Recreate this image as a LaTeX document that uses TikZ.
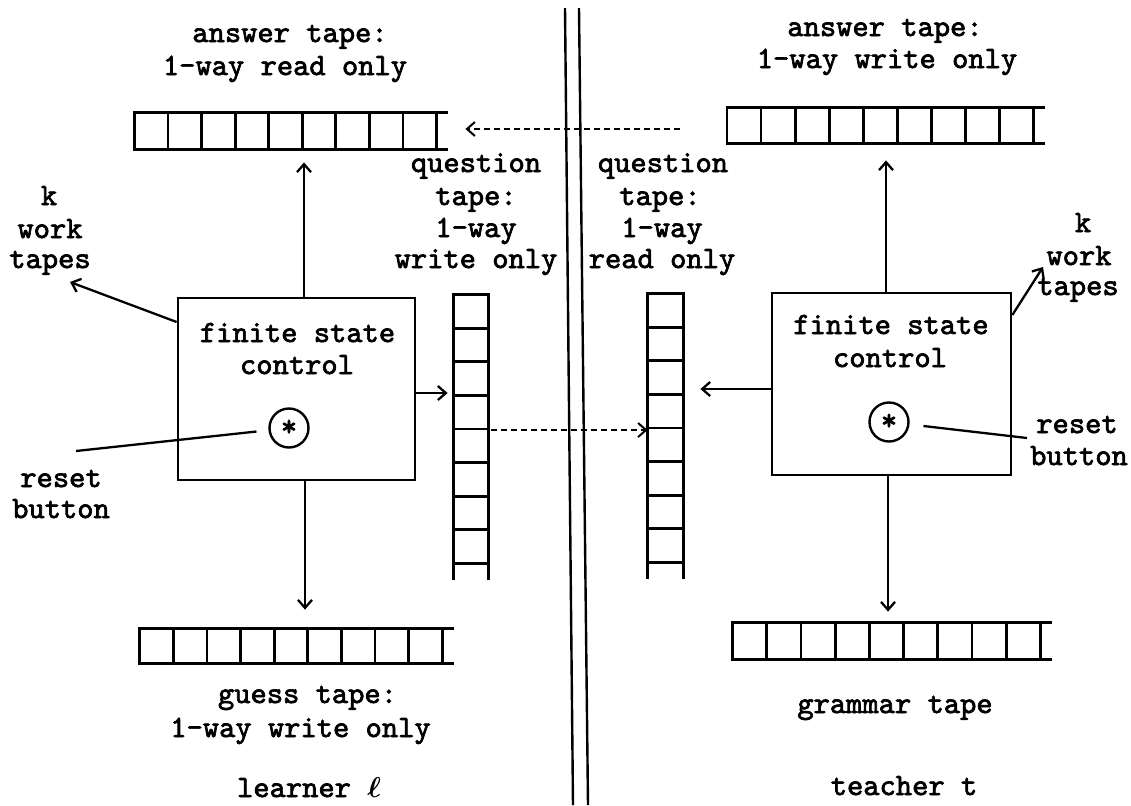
\documentclass[tikz,border=0pt]{standalone}
\usepackage{amsmath}
\usepackage{fontspec}
\setmonofont{lmmono10-regular.otf}[AutoFakeBold=2.2]
\usetikzlibrary{arrows.meta,calc}
\begin{document}
\begin{tikzpicture}[x=0.5pt,y=-0.5pt,
  lw/.style={line width=1.35pt, line cap=rect},
  arr/.style={line width=1.15pt, -{Straight Barb[length=4pt,width=7pt,line width=1.15pt]}},
  darr/.style={line width=1pt, dash pattern=on 3pt off 2pt, -{Straight Barb[length=4pt,width=7pt,line width=1pt]}},
  lbl/.style={font=\ttfamily\bfseries\fontsize{15.5pt}{18pt}\selectfont, inner sep=0pt, anchor=base},
  tapebox/.style={draw=none, inner sep=0pt},
  fsc/.style={draw, line width=1.35pt, inner sep=0pt, minimum height=91pt},
  btn/.style={draw, circle, line width=1.2pt, minimum size=19.5pt, inner sep=0pt, font=\ttfamily\bfseries\fontsize{15.5pt}{18pt}\selectfont},
  plain/.style={line width=1.15pt}
]
\fill[white] (0,0) rectangle (1131,805);
\useasboundingbox (0,0) rectangle (1131,805);

% separator
\draw[line width=1.2pt] (565,8) -- (573,805);
\draw[line width=1.2pt] (579,8) -- (588,805);

% tapes
\node[tapebox, minimum width=150.5pt, minimum height=18pt] (lans) at (285.5,131) {};
\node[tapebox, minimum width=152.75pt, minimum height=17.5pt] (rans) at (880.25,125.5) {};
\node[tapebox, minimum width=151pt, minimum height=17pt] (lguess) at (291,646) {};
\node[tapebox, minimum width=153.5pt, minimum height=18pt] (gram) at (886.5,641) {};
\node[tapebox, minimum width=17pt, minimum height=134pt] (lq) at (471,429) {};
\node[tapebox, minimum width=17.5pt, minimum height=134pt] (rq) at (665.5,428) {};

\foreach \t in {lans,rans,lguess,gram}{
  \draw[lw] (\t.north west) -- ([xshift=5pt]\t.north east);
  \draw[lw] (\t.south west) -- ([xshift=5pt]\t.south east);
  \foreach \i in {0,...,9}
    \draw[lw] ($(\t.north west)!\i/9!(\t.north east)$) -- ($(\t.south west)!\i/9!(\t.south east)$);
}
\foreach \t in {lq,rq}{
  \draw[lw] (\t.north west) -- ([yshift=-7.5pt]\t.south west);
  \draw[lw] (\t.north east) -- ([yshift=-7.5pt]\t.south east);
  \foreach \i in {0,...,8}
    \draw[lw] ($(\t.north west)!\i/8!(\t.south west)$) -- ($(\t.north east)!\i/8!(\t.south east)$);
}

% finite state controls
\node[fsc, minimum width=118.5pt] (lbox) at (296.5,389) {};
\node[fsc, minimum width=119.5pt] (rbox) at (891.5,384) {};
\node[btn] (lstar) at (289,428) {*};
\node[btn] (rstar) at (889,422) {*};

% free ends
\coordinate (lwk) at (70,282);
\coordinate (rwk) at (1043,267);
\coordinate (lrs) at (76,451);
\coordinate (rrs) at (1027,438);

% connectors, learner
\draw[arr, shorten >=6.5pt] ([xshift=3.75pt]lbox.north) -- ([xshift=3.75pt]lbox.north |- lans.south);
\draw[arr, shorten >=9.5pt] ([xshift=4.25pt]lbox.south) -- ([xshift=4.25pt]lbox.south |- lguess.north);
\draw[arr, shorten >=3pt] ([yshift=-2pt]lbox.east) -- ([yshift=-2pt]lbox.east -| lq.west);
\draw[arr] ([yshift=33.5pt]lbox.west) -- (lwk);
\draw[plain, shorten <=6pt] (lstar) -- (lrs);

% connectors, teacher
\draw[arr, shorten >=8.5pt] ([xshift=-2.75pt]rbox.north) -- ([xshift=-2.75pt]rbox.north |- rans.south);
\draw[arr, shorten >=5.5pt] ([xshift=-1.75pt]rbox.south) -- ([xshift=-1.75pt]rbox.south |- gram.north);
\draw[arr, shorten >=8.5pt] ([yshift=-2.5pt]rbox.west) -- ([yshift=-2.5pt]rbox.west -| rq.east);
\draw[arr] ([yshift=34.5pt]rbox.east) -- (rwk);
\draw[plain, shorten <=7pt] (rstar) -- (rrs);

% dashed links
\draw[darr, shorten <=23.75pt, shorten >=14.5pt] ([yshift=-1.75pt]rans.west) -- ([yshift=-1.75pt]rans.west -| lans.east);
\draw[darr, shorten <=1.5pt] ([yshift=-0.5pt]lq.east) -- ([yshift=-0.5pt]lq.east -| rq.west);

% labels, learner
\node[lbl] (t1) at (290,42) {answer tape:};
\node[lbl] (t2) at (285,75) {1-way read only};
\node[lbl] (t3) at (49,205) {k};
\node[lbl] (t4) at (50,238) {work};
\node[lbl] (t5) at (50,268) {tapes};
\node[lbl] (t6) at (476,172) {question};
\node[lbl] (t7) at (476,205) {tape:};
\node[lbl] (t8) at (476,237) {1-way};
\node[lbl] (t9) at (476,268) {write only};
\node[lbl] (t10) at (297.5,342) {finite state};
\node[lbl] (t11) at (297,374) {control};
\node[lbl] (t12) at (61,487) {reset};
\node[lbl] (t13) at (61,518) {button};
\node[lbl] (t14) at (307.5,703) {guess tape:};
\node[lbl] (t15) at (300.5,737) {1-way write only};
\node[lbl] (t16) at (309,797) {learner $\boldsymbol{\ell}$};

% labels, teacher
\node[lbl] (u1) at (885,36) {answer tape:};
\node[lbl] (u2) at (887,68) {1-way write only};
\node[lbl] (u3) at (663,172) {question};
\node[lbl] (u4) at (660,205) {tape:};
\node[lbl] (u5) at (662,237) {1-way};
\node[lbl] (u6) at (662,268) {read only};
\node[lbl] (u7) at (1083,232) {k};
\node[lbl] (u8) at (1079,265) {work};
\node[lbl] (u9) at (1078,295) {tapes};
\node[lbl] (u10) at (891,334) {finite state};
\node[lbl] (u11) at (890,367) {control};
\node[lbl] (u12) at (1077,433) {reset};
\node[lbl] (u13) at (1079,465) {button};
\node[lbl] (u14) at (895,713) {grammar tape};
\node[lbl] (u15) at (904,795) {teacher t};
\end{tikzpicture}
\end{document}
